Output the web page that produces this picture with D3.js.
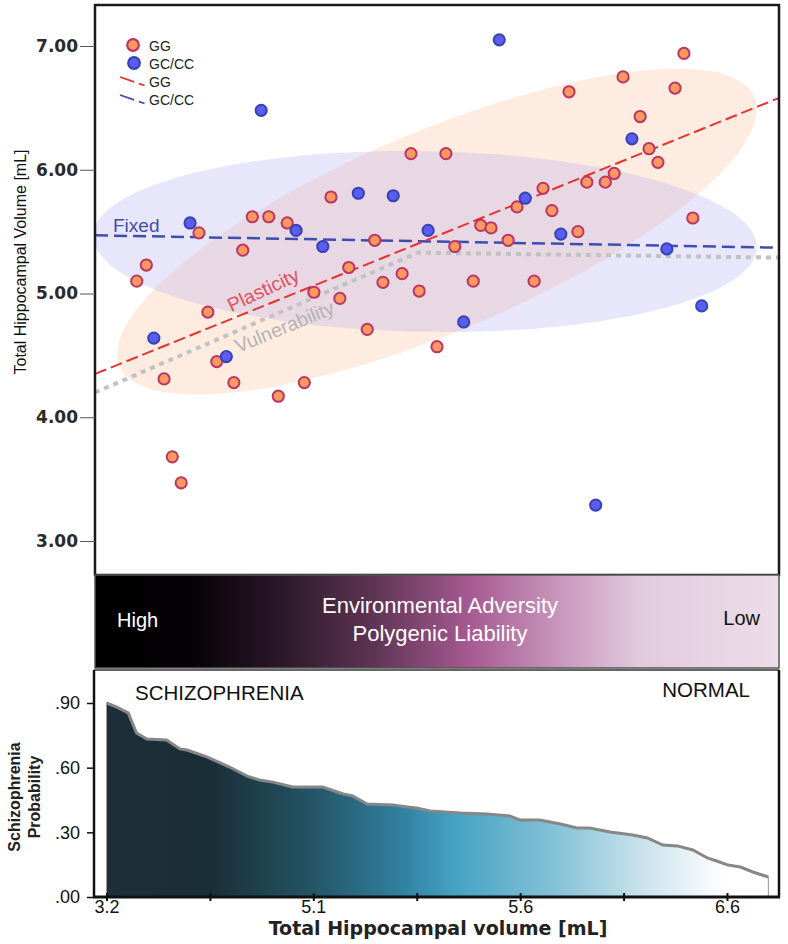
<!DOCTYPE html>
<html><head><meta charset="utf-8">
<script src="https://cdn.jsdelivr.net/npm/d3@7/dist/d3.min.js"></script>
<style>body{margin:0;background:#fff}svg{display:block}</style>
</head><body>
<svg id="c" width="788" height="944"></svg>
<script>
// ---------- DATA ----------
// Top scatter: x = position along the adversity/liability axis (0-100), y = total hippocampal volume (mL)
const ggPoints = [
  [86.1,6.94],[77.2,6.75],[84.8,6.66],[69.3,6.63],[79.7,6.43],[81.0,6.17],[82.3,6.06],[75.9,5.97],
  [71.9,5.90],[74.6,5.90],[65.5,5.85],[46.2,6.13],[51.3,6.13],[34.5,5.78],[61.7,5.70],[66.8,5.67],
  [87.4,5.61],[56.4,5.55],[57.9,5.53],[70.6,5.50],[60.4,5.43],[52.6,5.38],[40.9,5.43],[23.0,5.62],
  [25.4,5.62],[28.1,5.57],[15.2,5.49],[21.6,5.35],[7.5,5.23],[6.1,5.10],[37.1,5.21],[44.9,5.16],
  [42.1,5.09],[55.3,5.10],[64.2,5.10],[47.4,5.02],[32.0,5.01],[35.8,4.96],[16.5,4.85],[39.8,4.71],
  [50.0,4.57],[17.8,4.45],[10.1,4.31],[20.3,4.28],[30.6,4.28],[26.8,4.17],[11.3,3.68],[12.6,3.47]
];
const gcPoints = [
  [59.1,7.05],[24.3,6.48],[78.5,6.25],[38.5,5.81],[43.6,5.79],[62.9,5.77],[13.9,5.57],[29.4,5.51],
  [48.7,5.51],[68.1,5.48],[33.3,5.38],[83.6,5.36],[88.7,4.90],[53.9,4.77],[8.6,4.64],[19.2,4.49],[73.2,3.29]
];
// fitted lines
const ggLine = [[0,4.35],[100,6.58]];
const gcLine = [[0,5.47],[100,5.37]];
const vulnLine = [[0,4.20],[47.2,5.33],[100,5.29]];
// group ellipses: center, major semi-axis vector, minor semi-axis vector (data units)
const ggEllipse = {c:[50.0,5.50], a:[46.4,1.087], b:[5.72,-0.743]};
const gcEllipse = {c:[48.25,5.42], a:[48.5,-0.047], b:[-0.23,-0.73]};
const yTicksTop = [3,4,5,6,7];

// Bottom: schizophrenia probability vs hippocampal volume (x in tick-index units)
const probX = [0,0.10,0.21,0.29,0.39,0.58,0.71,0.78,0.97,1.19,1.36,1.48,1.61,1.80,2.09,2.29,2.38,2.52,2.77,2.91,3.00,3.13,3.42,3.68,3.90,4.00,4.19,4.39,4.55,4.67,4.87,5.09,5.23,5.38,5.52,5.67,5.81,5.90,6.01,6.13,6.25,6.40];
const probY = [0.900,0.881,0.854,0.761,0.733,0.728,0.687,0.682,0.650,0.603,0.561,0.543,0.533,0.510,0.510,0.478,0.469,0.431,0.427,0.418,0.413,0.399,0.390,0.385,0.376,0.357,0.357,0.339,0.320,0.320,0.302,0.288,0.274,0.241,0.237,0.218,0.181,0.167,0.148,0.139,0.116,0.093];
const xTickLabels = ["3.2","","5.1","","5.6","","6.6"];
const yTicksBottom = [0,0.3,0.6,0.9];
const yTickLabelsBottom = [".00",".30",".60",".90"];

// ---------- DRAW ----------
const svg = d3.select("#c");
const defs = svg.append("defs");
const sans = "'Liberation Sans', Arial, sans-serif";
const wide = "'DejaVu Sans', Verdana, sans-serif";

// ===== Top scatter =====
const x = d3.scaleLinear().domain([0,100]).range([95,779]);
const y = d3.scaleLinear().domain([3,7]).range([541,46]);

defs.append("clipPath").attr("id","clipTop").append("rect")
  .attr("x",96).attr("y",6).attr("width",682).attr("height",568);

const topG = svg.append("g");
const plot = topG.append("g").attr("clip-path","url(#clipTop)");

function ellipsePath(e){
  const pts = d3.range(0,360,3).map(t=>{
    const r = t*Math.PI/180;
    return [x(e.c[0]+Math.cos(r)*e.a[0]+Math.sin(r)*e.b[0]), y(e.c[1]+Math.cos(r)*e.a[1]+Math.sin(r)*e.b[1])];
  });
  return d3.line().curve(d3.curveCardinalClosed)(pts);
}
plot.append("path").attr("d",ellipsePath(ggEllipse)).attr("fill","rgb(252,200,168)").attr("fill-opacity",0.35);
plot.append("path").attr("d",ellipsePath(gcEllipse)).attr("fill","rgb(165,160,240)").attr("fill-opacity",0.26);

const ln = d3.line().x(d=>x(d[0])).y(d=>y(d[1]));
plot.append("path").attr("d",ln(vulnLine)).attr("fill","none").attr("stroke","#c2c2c2")
  .attr("stroke-width",4).attr("stroke-dasharray","5,5");
plot.append("path").attr("d",ln(gcLine)).attr("fill","none").attr("stroke","#3d4eb2")
  .attr("stroke-width",2.5).attr("stroke-dasharray","13,6");
plot.append("path").attr("d",ln(ggLine)).attr("fill","none").attr("stroke","#e8322f")
  .attr("stroke-width",2).attr("stroke-dasharray","12,5");

// line labels
const ang = p => Math.atan2(y(p[1][1])-y(p[0][1]), x(p[1][0])-x(p[0][0]))*180/Math.PI;
plot.append("text").attr("x",113).attr("y",232).text("Fixed")
  .attr("font-family",sans).attr("font-size",19).attr("fill","#3f4fa8");
plot.append("text").attr("transform",`translate(266,296) rotate(${ang(ggLine)-3})`).attr("text-anchor","middle")
  .text("Plasticity").attr("font-family",sans).attr("font-size",19.5).attr("fill","#e2525c");
plot.append("text").attr("transform",`translate(287,333) rotate(${ang(vulnLine)+1})`).attr("text-anchor","middle")
  .text("Vulnerability").attr("font-family",sans).attr("font-size",19.5).attr("fill","#b3b3b3");

// points
plot.append("g").selectAll("circle").data(ggPoints).join("circle")
  .attr("cx",d=>x(d[0])).attr("cy",d=>y(d[1])).attr("r",5.6)
  .attr("fill","#f8995f").attr("stroke","#bd3566").attr("stroke-width",2);
plot.append("g").selectAll("circle").data(gcPoints).join("circle")
  .attr("cx",d=>x(d[0])).attr("cy",d=>y(d[1])).attr("r",5.6)
  .attr("fill","#5b5cf0").attr("stroke","#3743b4").attr("stroke-width",2);

// legend
const lg = topG.append("g");
lg.append("circle").attr("cx",133).attr("cy",45).attr("r",5.8).attr("fill","#f8995f").attr("stroke","#bd3566").attr("stroke-width",2.2);
lg.append("circle").attr("cx",134).attr("cy",63).attr("r",5.8).attr("fill","#5b5cf0").attr("stroke","#3743b4").attr("stroke-width",2.2);
lg.append("line").attr("x1",120).attr("y1",77).attr("x2",146).attr("y2",86).attr("stroke","#e8322f").attr("stroke-width",1.8).attr("stroke-dasharray","15,5,6");
lg.append("line").attr("x1",120).attr("y1",95).attr("x2",146).attr("y2",104).attr("stroke","#3d4eb2").attr("stroke-width",1.8).attr("stroke-dasharray","15,5,6");
[["GG",51],["GC/CC",69],["GG",87],["GC/CC",105]].forEach(([t,yy])=>{
  lg.append("text").attr("x",149).attr("y",yy).text(t).attr("font-family",sans).attr("font-size",14).attr("fill","#222");
});

// frame & axis
topG.append("rect").attr("x",95).attr("y",5).attr("width",684).attr("height",570)
  .attr("fill","none").attr("stroke","#1a1a1a").attr("stroke-width",2.5);
const yAx = topG.append("g").attr("transform","translate(95,0)")
  .call(d3.axisLeft(y).tickValues(yTicksTop).tickFormat(d3.format(".2f")).tickSize(15));
yAx.select(".domain").remove();
yAx.selectAll("line").attr("stroke","#555");
yAx.selectAll("text").attr("font-family",wide).attr("font-weight","bold").attr("font-size",17).attr("fill","#2a2a2a").attr("x",-17);
topG.append("text").attr("transform","translate(26,262) rotate(-90)").attr("text-anchor","middle")
  .text("Total Hippocampal Volume [mL]").attr("font-family",sans).attr("font-size",16).attr("fill","#111");

// ===== Gradient band =====
const bg = defs.append("linearGradient").attr("id","band").attr("gradientUnits","userSpaceOnUse")
  .attr("x1",95).attr("x2",779).attr("y1",0).attr("y2",0);
[[95,"#000000"],[190,"#050205"],[280,"#2a1828"],[370,"#5c3352"],[470,"#a65a92"],[560,"#c897bd"],[640,"#e2cadd"],[779,"#ecdde8"]]
  .forEach(([p,c])=>bg.append("stop").attr("offset",(p-95)/684).attr("stop-color",c));
svg.append("rect").attr("x",95).attr("y",575).attr("width",684).attr("height",93)
  .attr("fill","url(#band)").attr("stroke","#555").attr("stroke-width",1.5);
svg.append("text").attr("x",440).attr("y",613).attr("text-anchor","middle").text("Environmental Adversity")
  .attr("font-family",sans).attr("font-size",22).attr("fill","#fff");
svg.append("text").attr("x",440).attr("y",641).attr("text-anchor","middle").text("Polygenic Liability")
  .attr("font-family",sans).attr("font-size",22).attr("fill","#fff");
svg.append("text").attr("x",117).attr("y",627).text("High").attr("font-family",sans).attr("font-size",20).attr("fill","#fff");
svg.append("text").attr("x",760).attr("y",625).attr("text-anchor","end").text("Low").attr("font-family",sans).attr("font-size",20).attr("fill","#111");

// ===== Bottom area chart =====
const xb = d3.scaleLinear().domain([0,6]).range([106.5,727]);
const yb = d3.scaleLinear().domain([0,0.9]).range([897,703]);
const ag = defs.append("linearGradient").attr("id","area").attr("gradientUnits","userSpaceOnUse")
  .attr("x1",107).attr("x2",768).attr("y1",0).attr("y2",0);
[[107,"#1c2f38"],[210,"#1a2e37"],[310,"#245464"],[400,"#3180a0"],[455,"#45a2c3"],[560,"#88c3d7"],[650,"#cfe5ee"],[725,"#ffffff"],[768,"#ffffff"]]
  .forEach(([p,c])=>ag.append("stop").attr("offset",(p-107)/661).attr("stop-color",c));
const probData = probX.map((v,i)=>[v,probY[i]]);
const bot = svg.append("g");
bot.append("rect").attr("x",94).attr("y",670).attr("width",685).attr("height",227).attr("fill","#fff");
bot.append("path").attr("d",d3.area().x(d=>xb(d[0])).y0(yb(0)).y1(d=>yb(d[1]))(probData))
  .attr("fill","url(#area)").attr("stroke","#9a9a9a").attr("stroke-width",1);
bot.append("path").attr("d",d3.line().x(d=>xb(d[0])).y(d=>yb(d[1]))(probData))
  .attr("fill","none").attr("stroke","#878787").attr("stroke-width",3);

// frame
bot.append("line").attr("x1",94).attr("x2",779).attr("y1",670).attr("y2",670).attr("stroke","#666").attr("stroke-width",2);
bot.append("line").attr("x1",779).attr("x2",779).attr("y1",670).attr("y2",897).attr("stroke","#111").attr("stroke-width",2.5);
bot.append("line").attr("x1",94).attr("x2",94).attr("y1",670).attr("y2",897).attr("stroke","#111").attr("stroke-width",2.5);

const xbAx = bot.append("g").attr("transform","translate(0,897)")
  .call(d3.axisBottom(xb).tickValues(d3.range(0,7)).tickFormat((d,i)=>xTickLabels[i]).tickSize(0).tickPadding(2));
xbAx.select(".domain").remove();
xbAx.selectAll("text").attr("font-family",sans).attr("font-size",18).attr("fill","#111").attr("dy","0.77em");
xbAx.selectAll(".tick").append("line").attr("y1",-4).attr("y2",4).attr("stroke","#111").attr("stroke-width",2);
bot.append("line").attr("x1",93).attr("x2",780).attr("y1",897).attr("y2",897).attr("stroke","#111").attr("stroke-width",3);

const ybAx = bot.append("g").attr("transform","translate(94,0)")
  .call(d3.axisLeft(yb).tickValues(yTicksBottom).tickFormat((d,i)=>yTickLabelsBottom[i]).tickSize(7).tickPadding(7));
ybAx.select(".domain").remove();
ybAx.selectAll("line").attr("stroke","#111").attr("stroke-width",1.5);
ybAx.selectAll("text").attr("font-family",sans).attr("font-size",18).attr("fill","#111");

bot.append("text").attr("x",135).attr("y",700).text("SCHIZOPHRENIA").attr("font-family",sans).attr("font-size",20.5).attr("fill","#111");
bot.append("text").attr("x",750).attr("y",697).attr("text-anchor","end").text("NORMAL").attr("font-family",sans).attr("font-size",20.5).attr("fill","#111");
bot.append("text").attr("transform","translate(20,797) rotate(-90)").attr("text-anchor","middle")
  .text("Schizophrenia").attr("font-family",sans).attr("font-weight","bold").attr("font-size",16).attr("fill","#222");
bot.append("text").attr("transform","translate(40,797) rotate(-90)").attr("text-anchor","middle")
  .text("Probability").attr("font-family",sans).attr("font-weight","bold").attr("font-size",16).attr("fill","#222");
bot.append("text").attr("x",438).attr("y",935).attr("text-anchor","middle").text("Total Hippocampal volume [mL]")
  .attr("font-family",wide).attr("font-weight","bold").attr("font-size",19).attr("fill","#222");
</script>
</body></html>
